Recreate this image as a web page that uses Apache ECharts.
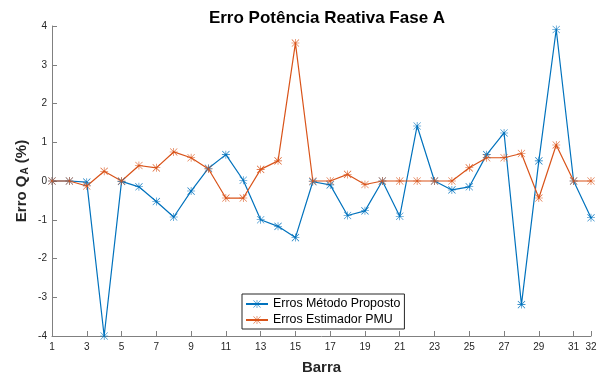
<!DOCTYPE html>
<html>
<head>
<meta charset="utf-8">
<script src="https://cdn.jsdelivr.net/npm/echarts@6/dist/echarts.min.js"></script>
<style>
  html, body { margin: 0; padding: 0; background: #fff; }
  #chart { width: 607px; height: 380px; }
</style>
</head>
<body>
<div id="chart"></div>
<script>
// Bus numbers (Barra)
const barras = [1,2,3,4,5,6,7,8,9,10,11,12,13,14,15,16,17,18,19,20,21,22,23,24,25,26,27,28,29,30,31,32];

// Reactive power error, phase A (%) – proposed method
const errosMetodoProposto = [
  0, 0, -0.03, -4.0, -0.01, -0.15, -0.53, -0.93, -0.26, 0.33,
  0.68, 0.02, -1.00, -1.17, -1.46, -0.02, -0.10, -0.89, -0.77, 0,
  -0.91, 1.42, 0, -0.23, -0.15, 0.68, 1.24, -3.19, 0.52, 3.91,
  0, -0.95
];

// Reactive power error, phase A (%) – PMU estimator
const errosEstimadorPMU = [
  0, 0, -0.13, 0.25, 0, 0.40, 0.34, 0.75, 0.60, 0.31,
  -0.44, -0.44, 0.30, 0.52, 3.56, 0, 0, 0.17, -0.09, 0,
  0, 0, 0, 0, 0.34, 0.60, 0.60, 0.71, -0.44, 0.93,
  0, 0
];

// Axis tick positions
const xTicks = [1,3,5,7,9,11,13,15,17,19,21,23,25,27,29,31,32];

const seriesNames = ['Erros Método Proposto', 'Erros Estimador PMU'];
const colors = ['#0072BD', '#D95319'];

// Eight-armed asterisk marker
const asterisk = 'path://M9.3 0 L10.7 0 L10.7 20 L9.3 20 Z ' +
  'M0 9.3 L20 9.3 L20 10.7 L0 10.7 Z ' +
  'M0.5 1.5 L1.5 0.5 L19.5 18.5 L18.5 19.5 Z ' +
  'M18.5 0.5 L19.5 1.5 L1.5 19.5 L0.5 18.5 Z';

const font = '"Liberation Sans", Arial, Helvetica, sans-serif';
const textColor = '#262626';
const axisColor = '#808080';

function pairs(values) {
  return barras.map((b, i) => [b, values[i]]);
}

function makeSeries(name, values, color) {
  return {
    name: name,
    type: 'line',
    data: pairs(values),
    symbol: asterisk,
    symbolSize: 8,
    showAllSymbol: true,
    lineStyle: { color: color, width: 1.2 },
    itemStyle: { color: color, borderWidth: 0 },
    emphasis: { disabled: true },
    animation: false
  };
}

const chart = echarts.init(document.getElementById('chart'), null, { renderer: 'canvas' });

chart.setOption({
  animation: false,
  color: colors,
  textStyle: { fontFamily: font },
  title: {
    text: 'Erro Potência Reativa Fase A',
    left: 322,
    textAlign: 'center',
    top: 5,
    textStyle: { fontFamily: font, fontSize: 17, fontWeight: 'bold', color: '#000' }
  },
  grid: { left: 52, right: 16, top: 26, bottom: 40, containLabel: false },
  legend: {
    orient: 'vertical',
    left: 242,
    top: 294,
    padding: [4, 4, 3, 3],
    itemWidth: 22,
    itemHeight: 10,
    itemGap: 4,
    backgroundColor: '#fff',
    borderColor: '#262626',
    borderWidth: 1,
    borderRadius: 0,
    selectedMode: false,
    textStyle: { fontFamily: font, fontSize: 12.4, color: '#000' },
    data: seriesNames
  },
  xAxis: {
    type: 'value',
    min: 1,
    max: 32,
    name: 'Barra',
    nameLocation: 'middle',
    nameGap: 24,
    nameTextStyle: { fontFamily: font, fontSize: 15, fontWeight: 'bold', color: textColor },
    axisLine: { show: true, onZero: false, lineStyle: { color: axisColor, width: 1 } },
    axisTick: { show: true, inside: true, length: 5, customValues: xTicks, lineStyle: { color: axisColor } },
    axisLabel: { customValues: xTicks, fontSize: 10, color: textColor, margin: 6, fontFamily: font },
    splitLine: { show: false }
  },
  yAxis: {
    type: 'value',
    min: -4,
    max: 4,
    interval: 1,
    name: 'Erro Q{sub|A} (%)',
    nameLocation: 'middle',
    nameRotate: 90,
    nameGap: 22,
    nameMoveOverlap: false,
    nameTextStyle: {
      fontFamily: font, fontSize: 15, fontWeight: 'bold', color: textColor,
      rich: {
        sub: { fontFamily: font, fontSize: 10, fontWeight: 'bold', color: textColor, verticalAlign: 'bottom', padding: [7, 0, 0, 1] }
      }
    },
    axisLine: { show: true, onZero: false, lineStyle: { color: axisColor, width: 1 } },
    axisTick: { show: true, inside: true, length: 5, lineStyle: { color: axisColor } },
    axisLabel: { fontSize: 10, color: textColor, margin: 5, fontFamily: font },
    splitLine: { show: false }
  },
  series: [
    makeSeries(seriesNames[0], errosMetodoProposto, colors[0]),
    makeSeries(seriesNames[1], errosEstimadorPMU, colors[1])
  ]
});
</script>
</body>
</html>
